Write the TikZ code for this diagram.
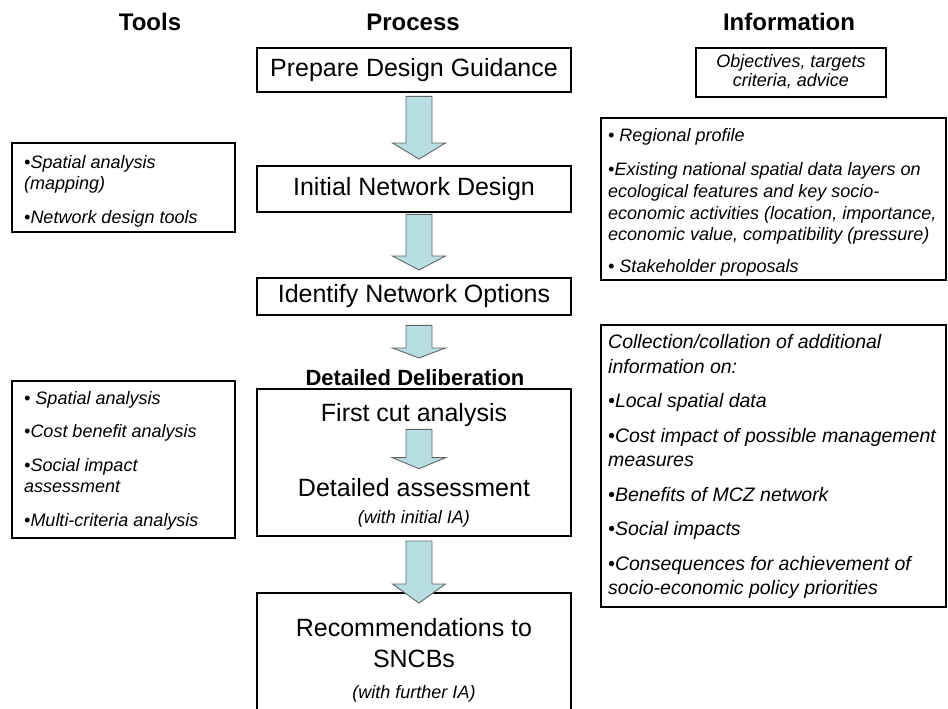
\documentclass[tikz,border=0pt]{standalone}
\usepackage{fontspec}
\setmainfont{Liberation Sans}
\usepackage{tikz}
\usetikzlibrary{calc}

\definecolor{pfeilfarbe}{RGB}{183,222,226}
\definecolor{pfeilrand}{RGB}{100,100,100}

% Blockpfeil: von, nach, Abstand oben, Abstand Spitze, Laenge Spitze
\newcommand{\blockpfeil}[5]{%
	\draw[fill=pfeilfarbe, draw=pfeilrand, line width=0.9pt, line join=miter]
		let \p1 = (#1.south), \p2 = (#2.north) in
		(406pt,\y1-#3) -- (432pt,\y1-#3) -- (432pt,\y2+#4+#5) -- (445.5pt,\y2+#4+#5)
		-- (419pt,\y2+#4) -- (392.5pt,\y2+#4+#5) -- (406pt,\y2+#4+#5) -- cycle;}

\begin{document}
\begin{tikzpicture}[x=1pt, y=1pt, inner sep=0pt,
	kopf/.style={anchor=base, font=\fontsize{24}{28}\selectfont\bfseries},
	prozess/.style={draw=black, line width=2.6pt, minimum width=314pt, font=\fontsize{25}{30}\selectfont},
	gross/.style={anchor=base, font=\fontsize{25}{31}\selectfont},
	rahmen/.style={draw=black, line width=2pt},
	liste/.style={anchor=base west, align=left, font=\fontsize{18}{21.5}\selectfont\itshape},
	klein/.style={anchor=base, font=\fontsize{18}{21}\selectfont\itshape}]

	\useasboundingbox (0,0) rectangle (948,-709);
	\clip (0,0) rectangle (948,-709);

	% Kopfzeilen
	\node[kopf](tools) at (150,-31) {Tools};
	\node[kopf](process) at (413,-31) {Process};
	\node[kopf](information) at (789,-31) {Information};

	% Prozess
	\node[prozess, minimum height=44pt](prepare) at (414,-70) {Prepare Design Guidance};
	\node[prozess, minimum height=46pt](initial) at (414,-189) {Initial Network Design};
	\node[prozess, minimum height=37pt](options) at (414,-296.5) {Identify Network Options};
	\node[anchor=base, font=\fontsize{22}{26}\selectfont\bfseries](deliberation) at (415,-385) {Detailed Deliberation};
	\node[prozess, minimum height=147pt](detailed) at (414,-462.5) {};
	\node[prozess, minimum height=130pt](recommend) at (414,-658) {};

	\node[gross](firstcut) at (414,-421) {First cut analysis};
	\node[gross](assessment) at (414,-496) {Detailed assessment};
	\node[klein](initialIA) at (414,-523) {(with initial IA)};
	% mehrzeilige Knoten: Grundlinie der letzten Zeile
	\node[gross, align=center](sncb) at (414,-667) {Recommendations to\\SNCBs};
	\node[klein](furtherIA) at (414,-698) {(with further IA)};

	% Werkzeuge
	\node[rahmen, minimum width=223pt, minimum height=89pt](toolsA) at (123.5,-187.5) {};
	\node[liste](toolsAtext) at (24,-223) {•Spatial analysis\\(mapping)\\[12pt]•Network design tools};

	\node[rahmen, minimum width=223pt, minimum height=157pt](toolsB) at (123.5,-459.5) {};
	\node[liste](toolsBtext) at (24,-526) {• Spatial analysis\\[12pt]•Cost benefit analysis\\[12pt]•Social impact\\assessment\\[12pt]•Multi-criteria analysis};

	% Informationen
	\node[rahmen, line width=1.3pt, minimum width=190pt, minimum height=49pt](infoA) at (791,-72.5) {};
	\node[klein, align=center, font=\fontsize{18}{18.5}\selectfont\itshape](infoAtext) at (791,-86.5) {Objectives, targets\\criteria, advice};

	\node[rahmen, minimum width=345pt, minimum height=162pt](infoB) at (773.5,-199) {};
	\node[liste, font=\fontsize{18}{21.7}\selectfont\itshape](infoBtext) at (608,-272.5) {• Regional profile\\[13pt]•Existing national spatial data layers on\\ecological features and key socio-\\economic activities (location, importance,\\economic value, compatibility (pressure)\\[10pt]• Stakeholder proposals};

	\node[rahmen, minimum width=345pt, minimum height=282pt](infoC) at (773.5,-466) {};
	\node[liste, font=\fontsize{19.5}{24.5}\selectfont\itshape](infoCtext) at (608,-594.5) {Collection/collation of additional\\information on:\\[10pt]•Local spatial data\\[10pt]•Cost impact of possible management\\measures\\[10pt]•Benefits of MCZ network\\[10pt]•Social impacts\\[10pt]•Consequences for achievement of\\socio-economic policy priorities};

	% Pfeile
	\blockpfeil{prepare}{initial}{3pt}{5.7pt}{16pt}
	\blockpfeil{initial}{options}{1pt}{6.7pt}{14pt}
	\blockpfeil{options}{detailed}{9pt}{29.7pt}{10pt}
	\blockpfeil{firstcut}{assessment}{3pt}{9pt}{11pt}
	\blockpfeil{detailed}{recommend}{3.7pt}{-11.3pt}{19pt}
\end{tikzpicture}
\end{document}
